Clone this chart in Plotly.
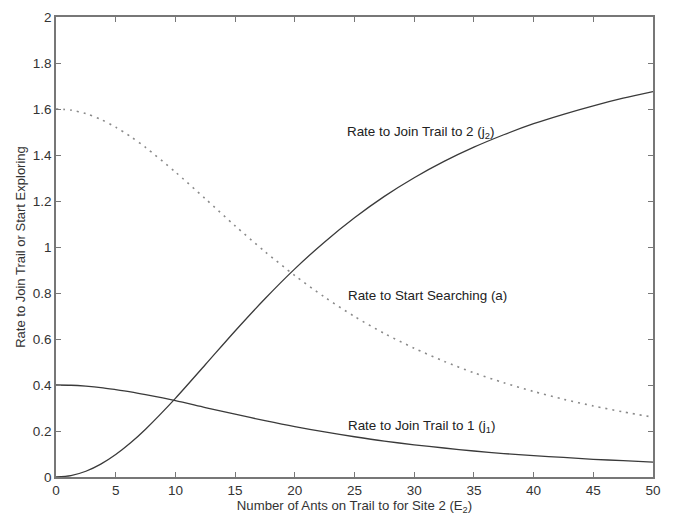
import plotly.graph_objects as go

E = [0, 1.25, 2.5, 3.75, 5, 6.25, 7.5, 10, 12.5, 15, 17.5, 20, 22.5, 25, 27.5, 30, 32.5, 35, 37.5, 40, 42.5, 45, 47.5, 50]
j1 = [0.400, 0.399, 0.395, 0.389, 0.380, 0.370, 0.358, 0.332, 0.302, 0.273, 0.245, 0.219, 0.196, 0.175, 0.156,
      0.140, 0.126, 0.113, 0.102, 0.093, 0.085, 0.077, 0.071, 0.065]
a = [1.600, 1.595, 1.580, 1.555, 1.521, 1.480, 1.433, 1.326, 1.210, 1.092, 0.980, 0.876, 0.782, 0.698, 0.624,
     0.560, 0.503, 0.453, 0.410, 0.372, 0.338, 0.309, 0.283, 0.260]
j2 = [0.000, 0.006, 0.025, 0.056, 0.098, 0.149, 0.208, 0.342, 0.488, 0.635, 0.775, 0.905, 1.022, 1.127, 1.220,
      1.301, 1.372, 1.434, 1.488, 1.536, 1.577, 1.614, 1.647, 1.676]

labels = [
    (24.2, 1.50, "Rate to Join Trail to 2 (j<sub>2</sub>)"),
    (24.3, 0.79, "Rate to Start Searching (a)"),
    (24.3, 0.22, "Rate to Join Trail to 1 (j<sub>1</sub>)"),
]

fig = go.Figure()
fig.add_trace(go.Scatter(x=E, y=j2, mode="lines", line=dict(color="#3a3a3a", width=1.3, shape="spline", smoothing=0.8)))
fig.add_trace(go.Scatter(x=E, y=a, mode="lines", line=dict(color="#8a8a8a", width=1.6, dash="2px,5px", shape="spline", smoothing=0.8)))
fig.add_trace(go.Scatter(x=E, y=j1, mode="lines", line=dict(color="#3a3a3a", width=1.3, shape="spline", smoothing=0.8)))

for x, y, t in labels:
    fig.add_annotation(x=x, y=y, text=t, showarrow=False, xanchor="left", yanchor="middle",
                       font=dict(size=13.4, color="#222"))

axis_common = dict(showline=True, linecolor="#777", linewidth=1.5, mirror="ticks", ticks="inside",
                   ticklen=5, tickcolor="#777", showgrid=False, zeroline=False,
                   tickfont=dict(size=13.5, color="#333"))

fig.update_layout(
    width=677, height=517,
    margin=dict(l=56, r=24, t=10, b=39),
    paper_bgcolor="white", plot_bgcolor="white",
    showlegend=False,
    font=dict(family="Liberation Sans, Arial, sans-serif", color="#333"),
    xaxis=dict(range=[0, 50], tickvals=list(range(0, 51, 5)),
               title=dict(text="Number of Ants on Trail to for Site 2 (E<sub>2</sub>)", font=dict(size=13.2), standoff=0),
               **axis_common),
    yaxis=dict(range=[0, 2], tickvals=[0, 0.2, 0.4, 0.6, 0.8, 1, 1.2, 1.4, 1.6, 1.8, 2],
               ticktext=["0", "0.2", "0.4", "0.6", "0.8", "1", "1.2", "1.4", "1.6", "1.8", "2"],
               title=dict(text="Rate to Join Trail or Start Exploring", font=dict(size=13), standoff=4),
               **axis_common),
)

fig.write_html("out.html")
